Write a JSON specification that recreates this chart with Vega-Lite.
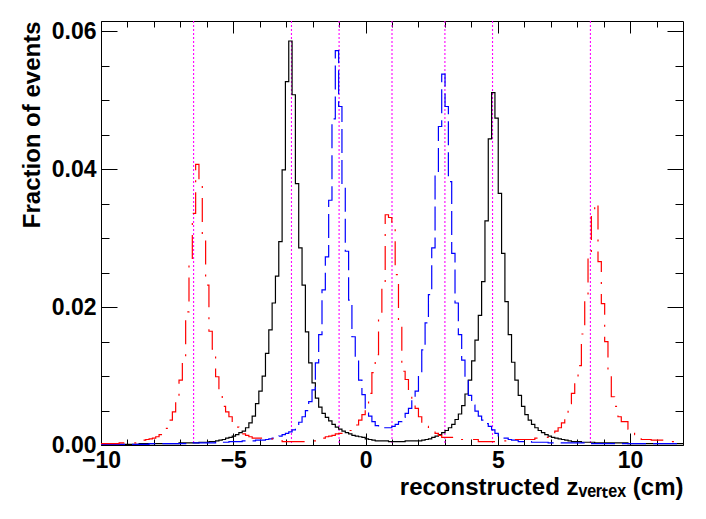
{"$schema":"https://vega.github.io/schema/vega-lite/v6.json","width":582,"height":424,"autosize":{"type":"none"},"padding":{"left":101,"top":21,"right":23,"bottom":74},"background":"white",
"config":{"view":{"stroke":"#000000","strokeWidth":1},"font":"Liberation Sans","axis":{"domain":false,"grid":false,"labelFont":"Liberation Sans","labelFontWeight":"bold","labelFontSize":23,"labelColor":"#000000","titleFont":"Liberation Sans","titleFontWeight":"bold","titleFontSize":24,"titleColor":"#000000","tickColor":"#000000","tickWidth":1,"labelFlush":false,"labelOverlap":false,"labelBound":false}},
"datasets":{
"m":[{"z":-6.5},{"z":-2.8},{"z":-1.0},{"z":1.0},{"z":3.0},{"z":4.8},{"z":8.5}],
"h":[
{"s":"black","x":-10,"y":0.0001},{"s":"black","x":-8.559,"y":0.0002},{"s":"black","x":-7.051,"y":0.0003},{"s":"black","x":-6.297,"y":0.0004},{"s":"black","x":-5.92,"y":0.0005},{"s":"black","x":-5.668,"y":0.0006},{"s":"black","x":-5.543,"y":0.0007},{"s":"black","x":-5.417,"y":0.0008},{"s":"black","x":-5.291,"y":0.001},{"s":"black","x":-5.165,"y":0.0011},{"s":"black","x":-5.04,"y":0.0013},{"s":"black","x":-4.914,"y":0.0015},{"s":"black","x":-4.788,"y":0.0018},{"s":"black","x":-4.663,"y":0.002},{"s":"black","x":-4.537,"y":0.0025},{"s":"black","x":-4.411,"y":0.0032},{"s":"black","x":-4.286,"y":0.0042},{"s":"black","x":-4.16,"y":0.006},{"s":"black","x":-4.034,"y":0.0078},{"s":"black","x":-3.908,"y":0.01},{"s":"black","x":-3.783,"y":0.0133},{"s":"black","x":-3.657,"y":0.0167},{"s":"black","x":-3.531,"y":0.0206},{"s":"black","x":-3.406,"y":0.0245},{"s":"black","x":-3.28,"y":0.0295},{"s":"black","x":-3.154,"y":0.0399},{"s":"black","x":-3.029,"y":0.0527},{"s":"black","x":-2.903,"y":0.0586},{"s":"black","x":-2.777,"y":0.0508},{"s":"black","x":-2.651,"y":0.0379},{"s":"black","x":-2.526,"y":0.0286},{"s":"black","x":-2.4,"y":0.0232},{"s":"black","x":-2.274,"y":0.0164},{"s":"black","x":-2.149,"y":0.0119},{"s":"black","x":-2.023,"y":0.009},{"s":"black","x":-1.897,"y":0.0068},{"s":"black","x":-1.772,"y":0.0055},{"s":"black","x":-1.646,"y":0.0046},{"s":"black","x":-1.52,"y":0.004},{"s":"black","x":-1.394,"y":0.0035},{"s":"black","x":-1.269,"y":0.003},{"s":"black","x":-1.143,"y":0.0026},{"s":"black","x":-1.017,"y":0.0023},{"s":"black","x":-0.892,"y":0.002},{"s":"black","x":-0.766,"y":0.0018},{"s":"black","x":-0.64,"y":0.0016},{"s":"black","x":-0.515,"y":0.0014},{"s":"black","x":-0.389,"y":0.0013},{"s":"black","x":-0.263,"y":0.0012},{"s":"black","x":-0.137,"y":0.0011},{"s":"black","x":-0.012,"y":0.0009},{"s":"black","x":0.114,"y":0.0008},{"s":"black","x":0.24,"y":0.0007},{"s":"black","x":0.365,"y":0.0006},{"s":"black","x":0.868,"y":0.0005},{"s":"black","x":1.497,"y":0.0006},{"s":"black","x":2.125,"y":0.0007},{"s":"black","x":2.251,"y":0.0008},{"s":"black","x":2.377,"y":0.0009},{"s":"black","x":2.502,"y":0.0011},{"s":"black","x":2.628,"y":0.0013},{"s":"black","x":2.754,"y":0.0015},{"s":"black","x":2.879,"y":0.0018},{"s":"black","x":3.005,"y":0.0021},{"s":"black","x":3.131,"y":0.0025},{"s":"black","x":3.257,"y":0.003},{"s":"black","x":3.382,"y":0.0037},{"s":"black","x":3.508,"y":0.0045},{"s":"black","x":3.634,"y":0.0057},{"s":"black","x":3.759,"y":0.0074},{"s":"black","x":3.885,"y":0.0094},{"s":"black","x":4.011,"y":0.0122},{"s":"black","x":4.136,"y":0.0152},{"s":"black","x":4.262,"y":0.0188},{"s":"black","x":4.388,"y":0.0237},{"s":"black","x":4.514,"y":0.0325},{"s":"black","x":4.639,"y":0.0444},{"s":"black","x":4.765,"y":0.0511},{"s":"black","x":4.891,"y":0.0474},{"s":"black","x":5.016,"y":0.0365},{"s":"black","x":5.142,"y":0.0278},{"s":"black","x":5.268,"y":0.0208},{"s":"black","x":5.393,"y":0.016},{"s":"black","x":5.519,"y":0.012},{"s":"black","x":5.645,"y":0.0094},{"s":"black","x":5.771,"y":0.0072},{"s":"black","x":5.896,"y":0.0056},{"s":"black","x":6.022,"y":0.0044},{"s":"black","x":6.148,"y":0.0036},{"s":"black","x":6.273,"y":0.003},{"s":"black","x":6.399,"y":0.0025},{"s":"black","x":6.525,"y":0.0021},{"s":"black","x":6.65,"y":0.0018},{"s":"black","x":6.776,"y":0.0015},{"s":"black","x":6.902,"y":0.0013},{"s":"black","x":7.028,"y":0.0011},{"s":"black","x":7.153,"y":0.001},{"s":"black","x":7.279,"y":0.0009},{"s":"black","x":7.405,"y":0.0008},{"s":"black","x":7.53,"y":0.0007},{"s":"black","x":7.656,"y":0.0006},{"s":"black","x":7.782,"y":0.0005},{"s":"black","x":8.159,"y":0.0004},{"s":"black","x":8.662,"y":0.0003},{"s":"black","x":9.919,"y":0.0002},{"s":"black","x":12,"y":0.0002},
{"s":"blue","x":-10,"y":0.0001},{"s":"blue","x":-8.182,"y":0.0002},{"s":"blue","x":-6.674,"y":0.0003},{"s":"blue","x":-5.668,"y":0.0004},{"s":"blue","x":-5.165,"y":0.0005},{"s":"blue","x":-4.663,"y":0.0006},{"s":"blue","x":-4.16,"y":0.0007},{"s":"blue","x":-3.783,"y":0.0008},{"s":"blue","x":-3.657,"y":0.0009},{"s":"blue","x":-3.531,"y":0.001},{"s":"blue","x":-3.406,"y":0.0011},{"s":"blue","x":-3.28,"y":0.0013},{"s":"blue","x":-3.154,"y":0.0015},{"s":"blue","x":-3.029,"y":0.0017},{"s":"blue","x":-2.903,"y":0.0019},{"s":"blue","x":-2.777,"y":0.0022},{"s":"blue","x":-2.651,"y":0.0027},{"s":"blue","x":-2.526,"y":0.0033},{"s":"blue","x":-2.4,"y":0.0041},{"s":"blue","x":-2.274,"y":0.005},{"s":"blue","x":-2.149,"y":0.0063},{"s":"blue","x":-2.023,"y":0.008},{"s":"blue","x":-1.897,"y":0.0119},{"s":"blue","x":-1.772,"y":0.016},{"s":"blue","x":-1.646,"y":0.0225},{"s":"blue","x":-1.52,"y":0.0273},{"s":"blue","x":-1.394,"y":0.0355},{"s":"blue","x":-1.269,"y":0.0473},{"s":"blue","x":-1.143,"y":0.0572},{"s":"blue","x":-1.017,"y":0.0491},{"s":"blue","x":-0.892,"y":0.0375},{"s":"blue","x":-0.766,"y":0.0281},{"s":"blue","x":-0.64,"y":0.021},{"s":"blue","x":-0.515,"y":0.0157},{"s":"blue","x":-0.389,"y":0.0124},{"s":"blue","x":-0.263,"y":0.0094},{"s":"blue","x":-0.137,"y":0.0073},{"s":"blue","x":-0.012,"y":0.005},{"s":"blue","x":0.114,"y":0.0042},{"s":"blue","x":0.24,"y":0.0034},{"s":"blue","x":0.365,"y":0.0028},{"s":"blue","x":0.491,"y":0.0026},{"s":"blue","x":0.617,"y":0.0025},{"s":"blue","x":0.994,"y":0.0027},{"s":"blue","x":1.12,"y":0.003},{"s":"blue","x":1.245,"y":0.0034},{"s":"blue","x":1.371,"y":0.004},{"s":"blue","x":1.497,"y":0.0046},{"s":"blue","x":1.622,"y":0.0053},{"s":"blue","x":1.748,"y":0.0065},{"s":"blue","x":1.874,"y":0.0078},{"s":"blue","x":2.0,"y":0.0104},{"s":"blue","x":2.125,"y":0.0138},{"s":"blue","x":2.251,"y":0.0177},{"s":"blue","x":2.377,"y":0.0218},{"s":"blue","x":2.502,"y":0.0286},{"s":"blue","x":2.628,"y":0.0392},{"s":"blue","x":2.754,"y":0.0462},{"s":"blue","x":2.879,"y":0.0538},{"s":"blue","x":3.005,"y":0.0491},{"s":"blue","x":3.131,"y":0.0382},{"s":"blue","x":3.257,"y":0.0278},{"s":"blue","x":3.382,"y":0.0206},{"s":"blue","x":3.508,"y":0.016},{"s":"blue","x":3.634,"y":0.0123},{"s":"blue","x":3.759,"y":0.0095},{"s":"blue","x":3.885,"y":0.0072},{"s":"blue","x":4.011,"y":0.0058},{"s":"blue","x":4.136,"y":0.0049},{"s":"blue","x":4.262,"y":0.0042},{"s":"blue","x":4.388,"y":0.0036},{"s":"blue","x":4.514,"y":0.0031},{"s":"blue","x":4.639,"y":0.0027},{"s":"blue","x":4.765,"y":0.0022},{"s":"blue","x":4.891,"y":0.0017},{"s":"blue","x":5.016,"y":0.0012},{"s":"blue","x":5.142,"y":0.001},{"s":"blue","x":5.393,"y":0.0008},{"s":"blue","x":5.519,"y":0.0007},{"s":"blue","x":5.771,"y":0.0005},{"s":"blue","x":6.273,"y":0.0004},{"s":"blue","x":6.902,"y":0.0003},{"s":"blue","x":8.41,"y":0.0002},{"s":"blue","x":12,"y":0.0002},
{"s":"red","x":-10,"y":0.0002},{"s":"red","x":-9.314,"y":0.0003},{"s":"red","x":-8.685,"y":0.0005},{"s":"red","x":-8.559,"y":0.0006},{"s":"red","x":-8.434,"y":0.0007},{"s":"red","x":-8.308,"y":0.0008},{"s":"red","x":-8.182,"y":0.0009},{"s":"red","x":-8.057,"y":0.001},{"s":"red","x":-7.931,"y":0.0012},{"s":"red","x":-7.805,"y":0.0015},{"s":"red","x":-7.679,"y":0.0019},{"s":"red","x":-7.554,"y":0.0024},{"s":"red","x":-7.428,"y":0.0036},{"s":"red","x":-7.302,"y":0.0048},{"s":"red","x":-7.177,"y":0.0063},{"s":"red","x":-7.051,"y":0.0094},{"s":"red","x":-6.925,"y":0.0128},{"s":"red","x":-6.8,"y":0.0193},{"s":"red","x":-6.674,"y":0.0261},{"s":"red","x":-6.548,"y":0.0336},{"s":"red","x":-6.422,"y":0.0407},{"s":"red","x":-6.297,"y":0.0382},{"s":"red","x":-6.171,"y":0.0302},{"s":"red","x":-6.045,"y":0.0232},{"s":"red","x":-5.92,"y":0.0165},{"s":"red","x":-5.794,"y":0.0139},{"s":"red","x":-5.668,"y":0.0099},{"s":"red","x":-5.543,"y":0.0075},{"s":"red","x":-5.417,"y":0.0056},{"s":"red","x":-5.291,"y":0.0048},{"s":"red","x":-5.165,"y":0.0041},{"s":"red","x":-5.04,"y":0.0032},{"s":"red","x":-4.914,"y":0.0026},{"s":"red","x":-4.788,"y":0.002},{"s":"red","x":-4.663,"y":0.0016},{"s":"red","x":-4.537,"y":0.0014},{"s":"red","x":-4.411,"y":0.0012},{"s":"red","x":-4.286,"y":0.001},{"s":"red","x":-3.657,"y":0.0009},{"s":"red","x":-3.154,"y":0.0005},{"s":"red","x":-2.023,"y":0.0006},{"s":"red","x":-1.897,"y":0.0007},{"s":"red","x":-1.772,"y":0.0009},{"s":"red","x":-1.646,"y":0.001},{"s":"red","x":-1.52,"y":0.0012},{"s":"red","x":-1.394,"y":0.0013},{"s":"red","x":-1.269,"y":0.0014},{"s":"red","x":-1.143,"y":0.0016},{"s":"red","x":-1.017,"y":0.0017},{"s":"red","x":-0.892,"y":0.0018},{"s":"red","x":-0.766,"y":0.0019},{"s":"red","x":-0.64,"y":0.0021},{"s":"red","x":-0.515,"y":0.0025},{"s":"red","x":-0.389,"y":0.0029},{"s":"red","x":-0.263,"y":0.0036},{"s":"red","x":-0.137,"y":0.0044},{"s":"red","x":-0.012,"y":0.0052},{"s":"red","x":0.114,"y":0.0075},{"s":"red","x":0.24,"y":0.0105},{"s":"red","x":0.365,"y":0.0131},{"s":"red","x":0.491,"y":0.0184},{"s":"red","x":0.617,"y":0.023},{"s":"red","x":0.743,"y":0.0334},{"s":"red","x":0.868,"y":0.033},{"s":"red","x":0.994,"y":0.0316},{"s":"red","x":1.12,"y":0.0247},{"s":"red","x":1.245,"y":0.0173},{"s":"red","x":1.371,"y":0.0107},{"s":"red","x":1.497,"y":0.0095},{"s":"red","x":1.622,"y":0.007},{"s":"red","x":1.748,"y":0.006},{"s":"red","x":1.874,"y":0.0053},{"s":"red","x":2.0,"y":0.0041},{"s":"red","x":2.125,"y":0.003},{"s":"red","x":2.251,"y":0.0027},{"s":"red","x":2.377,"y":0.0023},{"s":"red","x":2.502,"y":0.002},{"s":"red","x":2.628,"y":0.0017},{"s":"red","x":2.754,"y":0.0014},{"s":"red","x":2.879,"y":0.0011},{"s":"red","x":3.508,"y":0.0008},{"s":"red","x":4.262,"y":0.0005},{"s":"red","x":5.142,"y":0.0006},{"s":"red","x":5.519,"y":0.0008},{"s":"red","x":6.399,"y":0.001},{"s":"red","x":6.776,"y":0.0011},{"s":"red","x":6.902,"y":0.0013},{"s":"red","x":7.028,"y":0.0016},{"s":"red","x":7.153,"y":0.002},{"s":"red","x":7.279,"y":0.0025},{"s":"red","x":7.405,"y":0.0032},{"s":"red","x":7.53,"y":0.004},{"s":"red","x":7.656,"y":0.006},{"s":"red","x":7.782,"y":0.0075},{"s":"red","x":7.907,"y":0.0099},{"s":"red","x":8.033,"y":0.0115},{"s":"red","x":8.159,"y":0.0161},{"s":"red","x":8.285,"y":0.0213},{"s":"red","x":8.41,"y":0.0273},{"s":"red","x":8.536,"y":0.0336},{"s":"red","x":8.662,"y":0.0351},{"s":"red","x":8.787,"y":0.0266},{"s":"red","x":8.913,"y":0.0205},{"s":"red","x":9.039,"y":0.015},{"s":"red","x":9.164,"y":0.0099},{"s":"red","x":9.29,"y":0.007},{"s":"red","x":9.416,"y":0.0056},{"s":"red","x":9.541,"y":0.0041},{"s":"red","x":9.667,"y":0.0034},{"s":"red","x":9.919,"y":0.0023},{"s":"red","x":10.044,"y":0.0019},{"s":"red","x":10.17,"y":0.0015},{"s":"red","x":10.296,"y":0.001},{"s":"red","x":10.421,"y":0.0008},{"s":"red","x":10.798,"y":0.0007},{"s":"red","x":11.553,"y":0.0005},{"s":"red","x":12,"y":0.0005}
]},
"layer":[
{"data":{"name":"m"},"mark":{"type":"rule","stroke":"#ff00ff","color":"#ff00ff","strokeDash":[2,2],"strokeWidth":1.1,"opacity":1},
 "encoding":{"x":{"field":"z","type":"quantitative","scale":{"domain":[-10,12],"nice":false,"zero":false},
   "axis":{"orient":"bottom","values":[-10,-5,0,5,10],"format":"d","tickSize":-12,"labelPadding":16,"title":"reconstructed zᵥₑᵣₜₑₓ (cm)","titleFontSize":24,"titleX":582,"titleY":49,"titleAlign":"right","titleBaseline":"alphabetic","titleAnchor":"end"}}}},
{"data":{"name":"h"},"mark":{"type":"line","interpolate":"step-after","strokeWidth":1.2},
 "encoding":{
  "x":{"field":"x","type":"quantitative","scale":{"domain":[-10,12],"nice":false,"zero":false},"axis":{"orient":"top","values":[-10,-5,0,5,10],"tickSize":-12,"labels":false,"title":null}},
  "y":{"field":"y","type":"quantitative","scale":{"domain":[0,0.0615],"nice":false,"zero":true},"axis":{"orient":"left","values":[0,0.02,0.04,0.06],"format":".2f","tickSize":-16,"labelPadding":21,"title":"Fraction of events","titleX":-69,"titleY":0,"titleAngle":270,"titleAlign":"right","titleBaseline":"middle","titleAnchor":"end"}},
  "color":{"field":"s","type":"nominal","scale":{"domain":["red","black","blue"],"range":["#ff0000","#000000","#0000ff"]},"legend":null},
  "strokeDash":{"field":"s","type":"nominal","scale":{"domain":["red","black","blue"],"range":[[24,10,2,10],[1,0],[24,7]]},"legend":null}}},
{"data":{"name":"h"},"mark":{"type":"point","opacity":0,"size":1},
 "encoding":{
  "x":{"field":"x","type":"quantitative","scale":{"domain":[-10,12],"nice":false,"zero":false},"axis":{"orient":"bottom","values":[-9,-8,-7,-6,-4,-3,-2,-1,1,2,3,4,6,7,8,9,11],"tickSize":-6,"labels":false,"title":null}},
  "y":{"field":"y","type":"quantitative","scale":{"domain":[0,0.0615],"nice":false,"zero":true},"axis":{"orient":"right","values":[0,0.02,0.04,0.06],"tickSize":-16,"labels":false,"title":null}}}},
{"data":{"name":"h"},"mark":{"type":"point","opacity":0,"size":1},
 "encoding":{
  "x":{"field":"x","type":"quantitative","scale":{"domain":[-10,12],"nice":false,"zero":false},"axis":{"orient":"top","values":[-9,-8,-7,-6,-4,-3,-2,-1,1,2,3,4,6,7,8,9,11],"tickSize":-6,"labels":false,"title":null}},
  "y":{"field":"y","type":"quantitative","scale":{"domain":[0,0.0615],"nice":false,"zero":true},"axis":{"orient":"left","values":[0.005,0.01,0.015,0.025,0.03,0.035,0.045,0.05,0.055],"tickSize":-8,"labels":false,"title":null}}}},
{"data":{"name":"h"},"mark":{"type":"point","opacity":0,"size":1},
 "encoding":{
  "x":{"field":"x","type":"quantitative","scale":{"domain":[-10,12],"nice":false,"zero":false},"axis":null},
  "y":{"field":"y","type":"quantitative","scale":{"domain":[0,0.0615],"nice":false,"zero":true},"axis":{"orient":"right","values":[0.005,0.01,0.015,0.025,0.03,0.035,0.045,0.05,0.055],"tickSize":-8,"labels":false,"title":null}}}}
],
"resolve":{"axis":{"x":"independent","y":"independent"}}
}
